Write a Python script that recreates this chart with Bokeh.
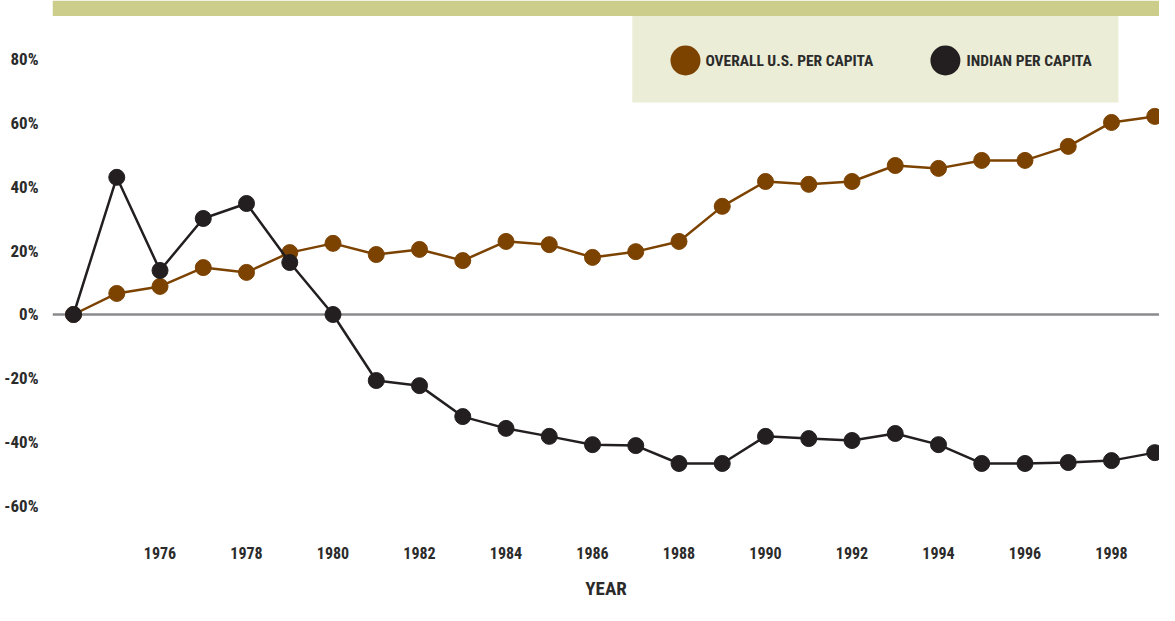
from bokeh.plotting import figure
from bokeh.models import (Range1d, FixedTicker, PrintfTickFormatter, Span, BoxAnnotation,
                          ColumnDataSource)
from bokeh.core.properties import value
from bokeh.embed import file_html
from bokeh.resources import INLINE

years = list(range(1974, 2000))
us_per_capita = [0, 6.6, 8.8, 14.7, 13.2, 19.4, 22.3, 18.8, 20.4, 16.9, 22.9, 21.9, 17.9,
                 19.7, 22.9, 33.9, 41.7, 40.8, 41.7, 46.7, 45.8, 48.3, 48.3, 52.7, 60.2, 62.1]
indian_per_capita = [0, 43.0, 13.8, 30.1, 34.8, 16.3, 0, -20.7, -22.3, -32.0, -35.7, -38.2,
                     -40.8, -41.1, -46.7, -46.7, -38.2, -38.9, -39.5, -37.3, -40.8, -46.7,
                     -46.7, -46.4, -45.8, -43.3]
y_ticks = [-60, -40, -20, 0, 20, 40, 60, 80]
x_ticks = list(range(1976, 2000, 2))
series_names = ["OVERALL U.S. PER CAPITA", "INDIAN PER CAPITA"]

BROWN = "#7c4200"
BLACK = "#231f20"
FONT = "'Liberation Sans Narrow', 'Roboto Condensed', 'Arial Narrow', Roboto, sans-serif"
TXT = "#2b2b2b"

W, H = 1159, 605
p = figure(width=W, height=H, output_backend="svg", toolbar_location=None,
           x_range=Range1d(1973.514, 1999.11), y_range=Range1d(-67.71, 98.43),
           min_border_left=52, min_border_right=0, min_border_top=0, min_border_bottom=75)
p.outline_line_color = None
p.background_fill_color = "white"
p.border_fill_color = "white"
p.xgrid.visible = False
p.ygrid.visible = False

# top band and legend panel
p.add_layout(BoxAnnotation(bottom=93.57, fill_color="#cccd8a", fill_alpha=1, line_color=None, level="underlay"))
p.add_layout(BoxAnnotation(left=1986.92, right=1998.16, bottom=66.46, top=93.57,
                           fill_color="#ebedd6", fill_alpha=1, line_color=None, level="underlay"))

p.add_layout(Span(location=0, dimension="width", line_color="#8a8a8d", line_width=2.5, level="underlay"))

src = ColumnDataSource(dict(x=years, us=us_per_capita, ind=indian_per_capita))
p.line("x", "us", source=src, line_color=BROWN, line_width=2.5)
p.scatter("x", "us", source=src, size=16, fill_color=BROWN, line_color=BROWN)
p.line("x", "ind", source=src, line_color=BLACK, line_width=2.5)
p.scatter("x", "ind", source=src, size=16, fill_color=BLACK, line_color=BLACK)

# legend
lx = [1988.15, 1994.16]
ly = [79.62, 79.62]
p.scatter(lx, ly, size=30, fill_color=[BROWN, BLACK], line_color=None)
p.text([1988.61, 1994.65], ly, text=series_names, text_font=value(FONT), text_font_size="15.5px",
       text_font_style="bold", text_color=TXT, text_baseline="middle", text_align="left")

xa = p.xaxis[0]
xa.ticker = FixedTicker(ticks=x_ticks)
xa.formatter = PrintfTickFormatter(format="%d")
xa.axis_line_color = None
xa.major_tick_line_color = None
xa.minor_tick_line_color = None
xa.major_label_standoff = 10
xa.major_label_text_font = FONT
xa.major_label_text_font_size = "16px"
xa.major_label_text_font_style = "bold"
xa.major_label_text_color = TXT
xa.axis_label = "YEAR"
xa.axis_label_standoff = 15
xa.axis_label_text_font = FONT
xa.axis_label_text_font_size = "19px"
xa.axis_label_text_font_style = "bold"
xa.axis_label_text_color = TXT

ya = p.yaxis[0]
ya.ticker = FixedTicker(ticks=y_ticks)
ya.formatter = PrintfTickFormatter(format="%d%%")
ya.axis_line_color = None
ya.major_tick_line_color = None
ya.minor_tick_line_color = None
ya.major_label_standoff = 8
ya.major_label_text_font = FONT
ya.major_label_text_font_size = "17px"
ya.major_label_text_font_style = "bold"
ya.major_label_text_color = TXT

open("out.html", "w").write(file_html(p, INLINE))
